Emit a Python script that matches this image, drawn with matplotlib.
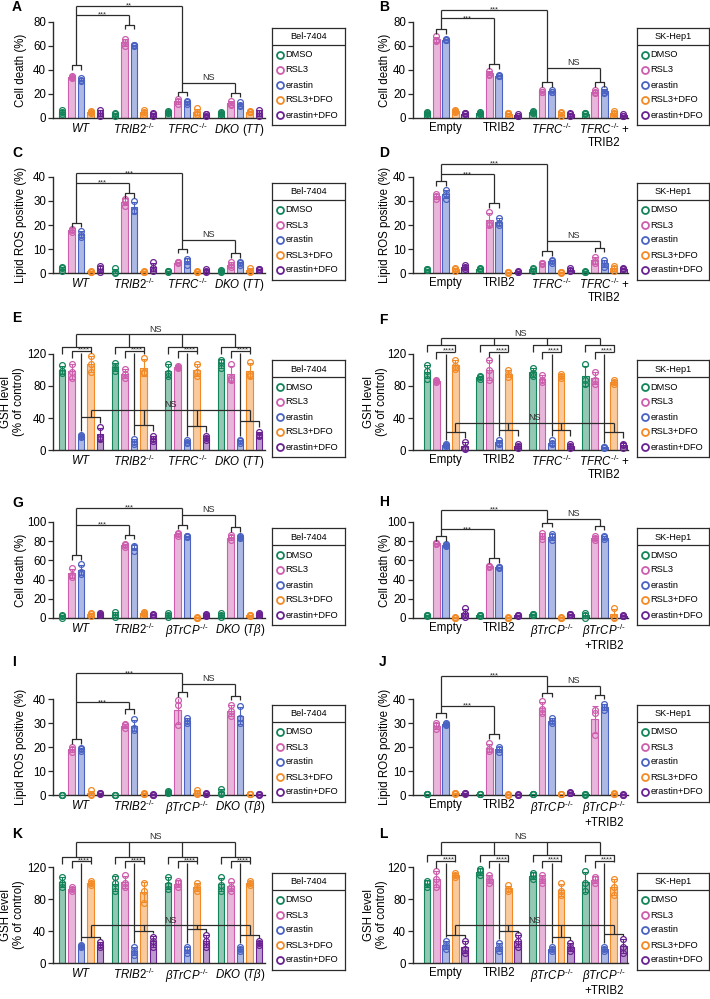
import matplotlib.pyplot as plt
import numpy as np

plt.rcParams['font.family'] = ['Liberation Sans', 'DejaVu Sans']
plt.rcParams['mathtext.fontset'] = 'custom'
plt.rcParams['mathtext.rm'] = 'Liberation Sans'
plt.rcParams['mathtext.it'] = 'Liberation Sans:italic'
plt.rcParams['mathtext.bf'] = 'Liberation Sans:bold'

W, H = 710, 999
GAP = 5.58
LC = '#2b2b2b'

treatments = ['DMSO', 'RSL3', 'erastin', 'RSL3+DFO', 'erastin+DFO']
colors = ['#13845a', '#cd5dad', '#4a62c2', '#f28a26', '#6a2191']

KO = r'^{\mathrm{‐/‐}}'
labs_tfrc_bel = [r'$\mathit{WT}$', r'$\mathit{TRIB2}' + KO + '$', r'$\mathit{TFRC}' + KO + '$',
                 r'$\mathit{DKO}\ (\mathit{TT})$']
labs_tfrc_sk = ['Empty', 'TRIB2', r'$\mathit{TFRC}' + KO + '$',
                r'$\mathit{TFRC}' + KO + '$ +\nTRIB2']
labs_btrcp_bel = [r'$\mathit{WT}$', r'$\mathit{TRIB2}' + KO + '$', r'$\mathit{\beta TrCP}' + KO + '$',
                  r'$\mathit{DKO}\ (\mathit{T\beta})$']
labs_btrcp_sk = ['Empty', 'TRIB2', r'$\mathit{\beta TrCP}' + KO + '$',
                 r'$\mathit{\beta TrCP}' + KO + '$\n+TRIB2']

# replicates: 4 groups x 5 treatments x 3 points
a_vals = [[[3, 5, 7], [33, 34, 35], [31, 32, 33], [4, 5, 6], [2, 4, 7]],
          [[2, 3, 4], [60, 63, 66], [60, 61, 61], [3, 5, 7], [2, 3, 4]],
          [[4, 5, 6], [12, 14, 16], [12, 13, 14], [3, 5, 8], [2, 3, 3]],
          [[3, 4, 5], [11, 12, 14], [10, 11, 13], [5, 5, 6], [2, 4, 7]]]
b_vals = [[[3, 4, 5], [64, 65, 68], [65, 65, 66], [5, 6, 7], [3, 4, 4]],
          [[3, 4, 5], [36, 37, 39], [35, 35, 36], [3, 4, 4], [2, 2, 3]],
          [[4, 5, 6], [22, 22, 23], [22, 22, 23], [2, 4, 5], [2, 3, 4]],
          [[3, 4, 4], [21, 22, 23], [21, 22, 24], [3, 4, 6], [2, 2, 3]]]
c_vals = [[[1, 2, 2.5], [17, 18, 18.5], [15, 16, 17.5], [0.5, 0.6, 0.8], [0.5, 2, 3]],
          [[0, 0.5, 2], [28, 30, 31], [26, 26, 30], [0.3, 0.6, 1], [1, 2, 4.5]],
          [[0.5, 0.7, 0.8], [4, 4.5, 4.5], [3.5, 5, 6], [0.3, 0.5, 0.7], [0.5, 1, 1.8]],
          [[0.3, 0.8, 1.2], [2.5, 3.5, 4.5], [3.5, 4, 4.5], [0.5, 1, 2], [1.2, 1.5, 1.7]]]
d_vals = [[[1.2, 1.5, 1.8], [31, 32, 33], [31, 33, 34.5], [1, 1.5, 2], [1.5, 2.5, 3.5]],
          [[1.5, 1.8, 2], [20, 21, 25.5], [20, 21, 23], [0.2, 0.3, 0.4], [0.3, 0.5, 0.8]],
          [[1, 1.5, 2], [3.8, 4, 4.2], [4, 5, 5.5], [0.2, 0.3, 0.4], [0.8, 1.2, 2]],
          [[0.5, 0.6, 0.7], [4, 5, 6.8], [2.5, 4, 5.5], [1, 2, 3], [1.5, 1.7, 1.9]]]
e_vals = [[[96, 99, 106], [90, 97, 108], [16, 17, 19], [97, 108, 117], [14, 16, 29]],
          [[99, 104, 109], [90, 95, 101], [8, 10, 14], [96, 98, 115], [11, 14, 18]],
          [[93, 96, 108], [103, 104, 105], [9, 10, 12], [93, 98, 108], [13, 15, 18]],
          [[102, 110, 113], [88, 90, 107], [9, 11, 13], [93, 95, 110], [17, 19, 23]]]
f_vals = [[[89, 99, 106], [85, 86, 87], [5, 6, 7], [101, 105, 113], [1, 3, 10]],
          [[89, 91, 93], [87, 100, 112], [7, 9, 13], [91, 95, 100], [3, 5, 8]],
          [[92, 96, 103], [85, 88, 94], [7, 9, 12], [90, 92, 95], [3, 5, 7]],
          [[83, 88, 107], [83, 88, 98], [3, 4, 4], [82, 85, 88], [3, 6, 8]]]
g_vals = [[[0, 2, 3], [43, 45, 52], [46, 48, 56], [2, 4, 5], [3, 4, 5]],
          [[1, 3, 6], [74, 76, 77], [70, 74, 75], [4, 5, 6], [3, 3, 4]],
          [[1, 3, 5], [85, 87, 89], [84, 85, 85], [0, 0, 1], [2, 3, 4]],
          [[1, 3, 5], [81, 84, 86], [83, 84, 85], [2, 3, 3], [3, 4, 5]]]
h_vals = [[[2, 3, 3], [77, 78, 78], [75, 76, 77], [0, 0.5, 1], [1, 4, 10]],
          [[2, 3, 3], [53, 54, 54], [52, 53, 53], [0, 0.5, 1], [2, 3, 3]],
          [[3, 4, 4], [82, 85, 89], [81, 85, 87], [0, 0.5, 1], [3, 4, 4]],
          [[0, 3, 5], [81, 83, 85], [82, 84, 85], [0, 1, 10], [2, 2, 3]]]
i_vals = [[[0, 0, 0.1], [18, 19, 20], [18.5, 19, 19.5], [0, 0.5, 2], [0.5, 0.8, 1]],
          [[0, 0, 0.1], [28, 29, 29.5], [27, 28, 31.5], [0.3, 0.5, 1], [0.1, 0.2, 0.3]],
          [[1, 1.2, 1.5], [29, 37.5, 39.5], [30, 31, 32], [0.3, 0.8, 2], [0.5, 0.6, 0.8]],
          [[0.3, 1, 2.5], [33, 35, 37.5], [30, 32, 37], [0.3, 0.5, 0.6], [0.2, 0.3, 0.4]]]
j_vals = [[[0.3, 0.4, 0.5], [27.5, 29, 30], [29, 29.5, 30], [0.5, 0.7, 0.9], [0.5, 0.8, 1]],
          [[0.3, 0.4, 0.5], [18.5, 19, 21.5], [18, 19, 20], [0.1, 0.2, 0.3], [0.1, 0.2, 0.3]],
          [[0.3, 0.4, 0.5], [34, 36, 39], [30, 31, 32], [0.3, 0.4, 0.5], [0.8, 1, 1.1]],
          [[0.2, 0.3, 0.4], [25, 34, 35.5], [35.5, 36.5, 38], [0.5, 0.6, 0.7], [0.1, 0.2, 0.3]]]
k_vals = [[[95, 100, 108], [90, 93, 95], [20, 21, 22], [97, 100, 103], [20, 23, 26]],
          [[90, 100, 108], [95, 100, 110], [10, 15, 20], [75, 90, 100], [20, 28, 33]],
          [[93, 98, 108], [95, 100, 103], [12, 17, 20], [90, 95, 100], [20, 27, 35]],
          [[90, 98, 107], [90, 95, 102], [15, 17, 20], [97, 100, 103], [22, 25, 28]]]
l_vals = [[[95, 100, 103], [95, 105, 115], [18, 23, 28], [107, 110, 112], [13, 18, 28]],
          [[110, 115, 118], [100, 105, 110], [15, 20, 25], [90, 93, 97], [20, 27, 35]],
          [[105, 110, 113], [100, 105, 110], [15, 18, 20], [85, 90, 100], [15, 20, 25]],
          [[90, 100, 115], [100, 105, 108], [15, 17, 20], [85, 95, 105], [13, 20, 30]]]

# significance layout (data units)
spec_a = dict(brk=[44, 77.5, 21.7, 21], lv=[86, 93.6, 29], lab=['***', '**', 'NS'])
spec_b = dict(brk=[74, 45, 30, 30], lv=[83, 90, 42], lab=['***', '***', 'NS'])
spec_c = dict(brk=[21, 33.3, 10, 8.3], lv=[37.5, 41.5, 13.75], lab=['***', '***', 'NS'])
spec_d = dict(brk=[38.3, 29, 9, 10.6], lv=[41.2, 45.4, 13.4], lab=['***', '***', 'NS'])
spec_g = dict(brk=[65.6, 86.5, 97, 94.5], lv=[97, 114.6, 107], lab=['***', '***', 'NS'])
spec_h = dict(brk=[85, 62.5, 99, 96], lv=[92.4, 113, 103], lab=['***', '***', 'NS'])
spec_i = dict(brk=[23.2, 35.7, 42.8, 41.4], lv=[38.6, 50.7, 46.25], lab=['***', '***', 'NS'])
spec_j = dict(brk=[34, 25.3, 42.6, 41.7], lv=[37.2, 49.7, 45.4], lab=['***', '***', 'NS'])
spec_e = dict(ns1=144.6, outer=129, inner=124, low=[41, 31, 30, 36], ns2=50)
spec_f = dict(ns1=139.6, outer=131, inner=123, low=[22.5, 25, 25, 22.5], ns2=34)
spec_k = dict(ns1=151, outer=133, inner=127, low=[33, 40, 42, 35], ns2=47)
spec_l = dict(ns1=151, outer=135, inner=128, low=[35, 40, 33, 36], ns2=47)

row_top = [22, 177, 354, 522, 699, 867]
letter_y = [[7, 7], [153, 153], [318, 320], [503, 502], [662, 662], [834, 834]]
col_left = [53, 413]
col_width = [212, 215]
leg_left = [272, 637]
leg_width = [73, 72]


def seg(ax, xs, ys):
    ax.plot(xs, ys, color=LC, lw=0.9, clip_on=False, zorder=6, solid_capstyle='butt')


def unit(ax):
    y0, y1 = ax.get_ylim()
    return (y1 - y0) / 96.0


def top_of(pts):
    pts = np.asarray(pts, float)
    return max(pts.max(), pts.mean() + pts.std(ddof=1))


def leg_bot(h, top, u, L=7):
    b = max(h - L * u, top + 3 * u)
    return min(b, h - 2 * u)


def sig(ax, x, y, s, u):
    if s == 'NS':
        ax.text(x, y + 0.8 * u, s, ha='center', va='bottom', fontsize=6.5, color=LC)
    else:
        ax.text(x, y - 1.8 * u, s, ha='center', va='baseline', fontsize=5.5, color=LC)


def death_brackets(ax, vals, sp):
    u = unit(ax)
    b = sp['brk']
    l1, l2, l3 = sp['lv']
    mids = []
    for g in range(4):
        x1, x2 = g * GAP + 1, g * GAP + 2
        h = b[g]
        seg(ax, [x1, x1, x2, x2], [h - 4.5 * u, h, h, h - 4.5 * u])
        mids.append((x1 + x2) / 2)
    seg(ax, [mids[0]] * 2, [b[0], l2])
    seg(ax, [mids[1]] * 2, [b[1], l1])
    seg(ax, [mids[2]] * 2, [b[2], l2])
    seg(ax, [mids[3]] * 2, [b[3], l3])
    seg(ax, [mids[0], mids[1]], [l1, l1])
    seg(ax, [mids[0], mids[2]], [l2, l2])
    seg(ax, [mids[2], mids[3]], [l3, l3])
    sig(ax, (mids[0] + mids[1]) / 2, l1, sp['lab'][0], u)
    sig(ax, (mids[0] + mids[2]) / 2, l2, sp['lab'][1], u)
    sig(ax, (mids[2] + mids[3]) / 2, l3, sp['lab'][2], u)


def gsh_brackets(ax, vals, sp):
    u = unit(ax)
    yo, yi = sp['outer'], sp['inner']
    up, lo = [], []
    for g in range(4):
        xs = [g * GAP + k for k in range(5)]
        tops = [top_of(p) for p in vals[g]]
        seg(ax, [xs[0], xs[0], xs[3], xs[3]],
            [leg_bot(yo, tops[0], u), yo, yo, leg_bot(yo, tops[3], u)])
        seg(ax, [xs[1], xs[1], xs[3]], [leg_bot(yi, tops[1], u), yi, yi])
        seg(ax, [xs[2], xs[2]], [yi - 2 * u, tops[2] + 4 * u])
        ax.text(xs[2] + 0.3, yi - 0.5 * u, '****', ha='center', va='baseline', fontsize=5.5, color=LC)
        yl = sp['low'][g]
        seg(ax, [xs[2], xs[4], xs[4]], [yl, yl, leg_bot(yl, tops[4], u, 6)])
        up.append((xs[0] + xs[3]) / 2)
        lo.append((xs[2] + xs[4]) / 2)
        seg(ax, [up[-1]] * 2, [yo, sp['ns1']])
        seg(ax, [lo[-1]] * 2, [yl, sp['ns2']])
    seg(ax, [up[0], up[3]], [sp['ns1']] * 2)
    seg(ax, [lo[0], lo[3]], [sp['ns2']] * 2)
    sig(ax, (up[0] + up[3]) / 2, sp['ns1'], 'NS', u)
    sig(ax, (lo[0] + lo[3]) / 2, sp['ns2'], 'NS', u)


def add_legend(fig, col, top, title):
    hh = 97
    lax = fig.add_axes([leg_left[col] / W, 1 - (top + hh) / H, leg_width[col] / W, hh / H])
    lax.set_xlim(0, leg_width[col])
    lax.set_ylim(hh, 0)
    lax.set_xticks([])
    lax.set_yticks([])
    for s in lax.spines.values():
        s.set_linewidth(0.9)
        s.set_color(LC)
    lax.axhline(17, color=LC, lw=0.9)
    lax.text(leg_width[col] / 2, 9, title, ha='center', va='center', fontsize=6.6)
    for i in range(5):
        y = 27 + 15 * i
        lax.plot(7.5, y, 'o', ms=5, mfc='none', mec=colors[i], mew=1.3)
        lax.text(13.5, y, treatments[i], va='center', fontsize=6.7)


fig = plt.figure(figsize=(W / 100, H / 100), dpi=100)

panels = [
    ('A', a_vals, labs_tfrc_bel, 'Cell death (%)', [0, 20, 40, 60, 80], 'Bel-7404', 0, 0, spec_a),
    ('B', b_vals, labs_tfrc_sk, 'Cell death (%)', [0, 20, 40, 60, 80], 'SK-Hep1', 1, 0, spec_b),
    ('C', c_vals, labs_tfrc_bel, 'Lipid ROS positive (%)', [0, 10, 20, 30, 40], 'Bel-7404', 0, 1, spec_c),
    ('D', d_vals, labs_tfrc_sk, 'Lipid ROS positive (%)', [0, 10, 20, 30, 40], 'SK-Hep1', 1, 1, spec_d),
    ('E', e_vals, labs_tfrc_bel, 'GSH level\n(% of control)', [0, 40, 80, 120], 'Bel-7404', 0, 2, spec_e),
    ('F', f_vals, labs_tfrc_sk, 'GSH level\n(% of control)', [0, 40, 80, 120], 'SK-Hep1', 1, 2, spec_f),
    ('G', g_vals, labs_btrcp_bel, 'Cell death (%)', [0, 20, 40, 60, 80, 100], 'Bel-7404', 0, 3, spec_g),
    ('H', h_vals, labs_btrcp_sk, 'Cell death (%)', [0, 20, 40, 60, 80, 100], 'SK-Hep1', 1, 3, spec_h),
    ('I', i_vals, labs_btrcp_bel, 'Lipid ROS positive (%)', [0, 10, 20, 30, 40], 'Bel-7404', 0, 4, spec_i),
    ('J', j_vals, labs_btrcp_sk, 'Lipid ROS positive (%)', [0, 10, 20, 30, 40], 'SK-Hep1', 1, 4, spec_j),
    ('K', k_vals, labs_btrcp_bel, 'GSH level\n(% of control)', [0, 40, 80, 120], 'Bel-7404', 0, 5, spec_k),
    ('L', l_vals, labs_btrcp_sk, 'GSH level\n(% of control)', [0, 40, 80, 120], 'SK-Hep1', 1, 5, spec_l),
]

for letter, vals, xlabs, ylab, yt, cell, col, row, sp in panels:
    top = row_top[row]
    ax = fig.add_axes([col_left[col] / W, 1 - (top + 96) / H, col_width[col] / W, 96 / H])
    for g in range(4):
        for k in range(5):
            x = g * GAP + k
            pts = np.asarray(vals[g][k], float)
            m, sd = pts.mean(), pts.std(ddof=1)
            ax.bar(x, m, width=0.72, color=colors[k], alpha=0.45, lw=0, zorder=1)
            ax.bar(x, m, width=0.72, fill=False, edgecolor=colors[k], lw=0.8, zorder=2)
            ax.errorbar(x, m, yerr=sd, fmt='none', ecolor=colors[k], elinewidth=0.8,
                        capsize=2.2, capthick=0.8, zorder=3)
            ax.plot([x] * 3, pts, 'o', ms=4.2, mfc='none', mec=colors[k], mew=0.9,
                    zorder=4, clip_on=False)
    ax.set_ylim(0, yt[-1])
    ax.set_yticks(yt)
    ax.set_xlim(-0.95 if col == 0 else -1.47, 3 * GAP + 4 + (0.63 if col == 0 else 0.5))
    ax.set_xticks([g * GAP + 2 for g in range(4)])
    ax.set_xticklabels(xlabs, linespacing=0.92)
    for s in ['top', 'right']:
        ax.spines[s].set_visible(False)
    for s in ['left', 'bottom']:
        ax.spines[s].set_linewidth(1.0)
        ax.spines[s].set_color(LC)
    ax.tick_params(axis='y', length=3.5, width=0.9, labelsize=8.3, pad=1.5, color=LC)
    ax.tick_params(axis='x', length=0, labelsize=8.3, pad=3.0)
    ax.set_ylabel(ylab, fontsize=8.3, linespacing=1.1)
    if 'GSH' in ylab:
        ax.yaxis.set_label_coords(-0.132 if col == 0 else -0.116, 0.5)
        gsh_brackets(ax, vals, sp)
    else:
        ax.yaxis.set_label_coords(-0.123 if col == 0 else -0.102, 0.5)
        death_brackets(ax, vals, sp)
    add_legend(fig, col, top + 6, cell)
    fig.text((12 if col == 0 else 379) / W, 1 - letter_y[row][col] / H, letter,
             fontsize=10, fontweight='bold', ha='left', va='center')

fig.savefig('out.png', dpi=100)
